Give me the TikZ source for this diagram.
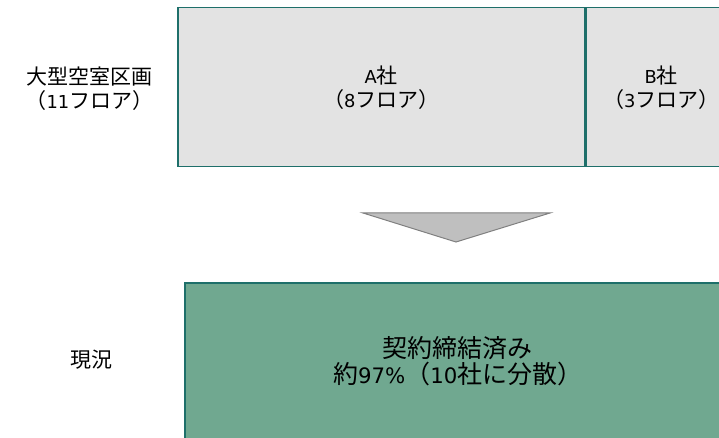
\documentclass[tikz,border=0pt]{standalone}
\usepackage{fontspec}
\setmainfont{Noto Sans CJK JP}
\newfontfamily\latinfont{DejaVu Sans}
\definecolor{frameteal}{HTML}{1E6F6A}
\definecolor{floorgray}{HTML}{E3E3E3}
\definecolor{leasegreen}{HTML}{70A890}
\definecolor{arrowgray}{HTML}{BFBFBF}
\definecolor{arrowedge}{HTML}{808080}
\newcommand{\toptext}{\fontsize{21}{24}\selectfont}
\newcommand{\bottomtext}{\fontsize{25}{26}\selectfont}
\newcommand{\lat}[1]{{\latinfont\scalebox{0.85}{#1}}}
\begin{document}
\begin{tikzpicture}[x=1pt,y=-1pt,
    floorbox/.style={draw=frameteal,line width=1.5pt,fill=floorgray,align=center,inner sep=0pt,
      anchor=north west,minimum height=159pt,font=\toptext},
    leasebox/.style={draw=frameteal,line width=1.5pt,fill=leasegreen,align=center,inner sep=0pt,
      anchor=north west,font=\bottomtext},
    rowlabel/.style={align=center,inner sep=0pt}]
  \useasboundingbox (0,0) rectangle (719,438);
  \clip (0,0) rectangle (719,438);

  % top row: vacant floors split between the two tenants
  \node[floorbox,minimum width=407pt] (compA) at (177,7) {\lat{A}社\\（\lat{8}フロア）};
  \node[floorbox,minimum width=150pt] (compB) at (compA.north east) {\lat{B}社\\（\lat{3}フロア）};
  \node[rowlabel,font=\toptext] (vacant) at (89.5,89) {大型空室区画\\（\lat{11}フロア）};

  % arrow down
  \coordinate (arrowL) at (363,213);
  \coordinate (arrowR) at (550,213);
  \coordinate (arrowtip) at (456,242);
  \draw[arrowedge,fill=arrowgray,line width=1pt] (arrowL) -- (arrowR) -- (arrowtip) -- cycle;

  % bottom row
  \node[leasebox,minimum width=546pt,minimum height=156pt] (status) at (184,282)
    {契約締結済み\\約\lat{97\%}（\lat{10}社に分散）};
  \node[rowlabel,font=\toptext] (now) at (91.5,360) {現況};
\end{tikzpicture}
\end{document}
